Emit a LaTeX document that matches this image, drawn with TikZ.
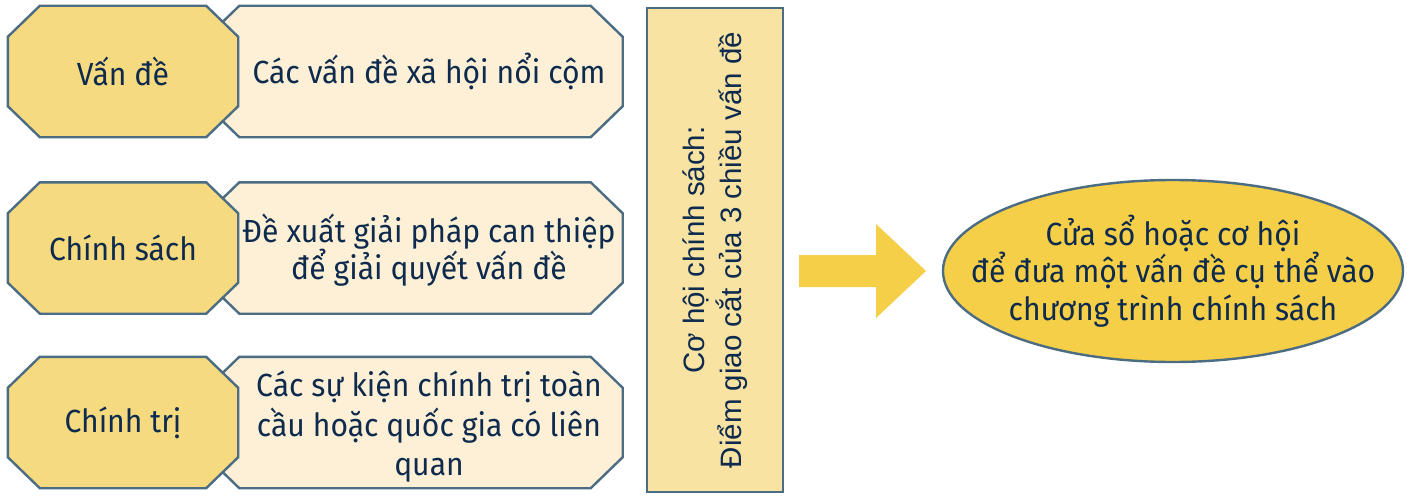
\documentclass[tikz,border=0pt]{standalone}
\usepackage{fontspec}
\setmainfont{Fira Sans}[FakeStretch=0.94]
\newfontfamily\arialfont{Liberation Sans}
\usetikzlibrary{calc,shapes.geometric}
\pgfdeclarelayer{background}
\pgfsetlayers{background,main}

\definecolor{edgeblue}{HTML}{4B6C82}
\definecolor{octyellow}{HTML}{F6DA80}
\definecolor{octcream}{HTML}{FDF0D6}
\definecolor{barfill}{HTML}{F8E3A3}
\definecolor{goldfill}{HTML}{F5CF47}
\definecolor{inktext}{HTML}{0E2A4D}

\tikzset{
  labelbox/.style={inner sep=0pt, align=center, text=inktext,
    font=\fontsize{32}{37.5}\selectfont},
  keybox/.style={labelbox, minimum width=230pt, minimum height=131pt},
  descbox/.style={labelbox, minimum width=387pt, minimum height=131pt},
  octline/.style={draw=edgeblue, line width=2.4pt, line join=miter},
}

% chamfered outline: #1 style, #2 node, #3 extra reach to the left,
% #4 upward shift of the outline relative to the node
\newcommand\chamferbox[4]{%
  \path[#1] let \p1=(#2.north west), \p2=(#2.south east),
      \p3=(\x1-#3,\y1+#4), \p4=(\x2,\y2+#4) in
    (\x3+32pt,\y3) -- (\x4-32pt,\y3) -- (\x4,\y3-31pt) -- (\x4,\y4+31pt)
    -- (\x4-32pt,\y4) -- (\x3+32pt,\y4) -- (\x3,\y4+31pt) -- (\x3,\y3-31pt)
    -- cycle;}

\begin{document}
\begin{tikzpicture}[x=1pt,y=-1pt]
\useasboundingbox (0,0) rectangle (1407,495);

% left column: topic and its description
\node[keybox]  (k1) at (123,71.5) {\raisebox{-3pt}{Vấn đề}};
\node[descbox] (d1) at (429,71.5) {\raisebox{-3pt}{Các vấn đề xã hội nổi cộm}};
\node[keybox]  (k2) at (123,248) {\raisebox{-3pt}{Chính sách}};
\node[descbox] (d2) at (429,250) {Đề xuất giải pháp can thiệp\\để giải quyết vấn đề};
\node[keybox]  (k3) at (123,422.5) {\raisebox{-3pt}{Chính trị}};
\node[descbox, font=\fontsize{32}{39.5}\selectfont] (d3) at (429,427)
  {Các sự kiện chính trị toàn\\cầu hoặc quốc gia có liên\\quan};

\begin{pgfonlayer}{background}
  \chamferbox{octline, fill=octcream}{d1}{28pt}{0pt}
  \chamferbox{octline, fill=octyellow}{k1}{0pt}{0pt}
  \chamferbox{octline, fill=octcream}{d2}{28pt}{2pt}
  \chamferbox{octline, fill=octyellow}{k2}{0pt}{0pt}
  \chamferbox{octline, fill=octcream}{d3}{28pt}{4.5pt}
  \chamferbox{octline, fill=octyellow}{k3}{0pt}{0pt}
\end{pgfonlayer}

% vertical bar
\node[draw=edgeblue, line width=2.4pt, fill=barfill, rotate=90,
      minimum width=484pt, minimum height=136pt, inner sep=0pt,
      align=center, text=inktext,
      font=\arialfont\fontsize{29.5}{37}\selectfont] (opp) at (715,250)
  {Cơ hội chính sách:\\Điểm giao cắt của 3 chiều vấn đề};

% outcome ellipse with its text centred inside
\node[ellipse, draw=edgeblue, line width=2.4pt, fill=goldfill,
      minimum width=460pt, minimum height=182pt, inner sep=0pt,
      label={[labelbox]center:Cửa sổ hoặc cơ hội\\để đưa một vấn đề cụ thể vào\\chương trình chính sách}]
  (goal) at (1173,271) {};

% block arrow from bar to ellipse
\coordinate (atail) at (799,271);
\coordinate (atip)  at (926,271);
\fill[goldfill] ($(atail)+(0,-16)$) -- ($(atip)+(-50,-16)$) -- ($(atip)+(-50,-47)$)
  -- (atip) -- ($(atip)+(-50,47)$) -- ($(atip)+(-50,16)$) -- ($(atail)+(0,16)$) -- cycle;
\end{tikzpicture}
\end{document}
